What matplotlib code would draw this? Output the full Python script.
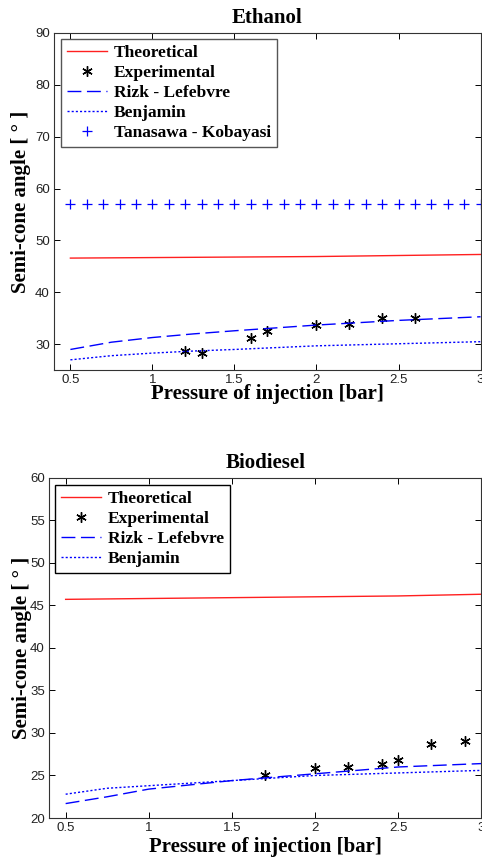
import matplotlib.pyplot as plt

# --- data ---
p_curve = [0.5, 0.75, 1.0, 1.25, 1.5, 2.0, 2.5, 3.0]
p_theo = [0.5, 1.0, 1.5, 2.0, 2.5, 3.0]
p_tk = [0.5 + 0.1 * i for i in range(26)]

eth_theo = [46.6, 46.7, 46.8, 46.9, 47.1, 47.3]
eth_rizk = [29.0, 30.4, 31.3, 32.0, 32.6, 33.7, 34.6, 35.3]
eth_benj = [27.0, 27.8, 28.3, 28.7, 29.0, 29.7, 30.1, 30.5]
eth_tk = [57.0] * 26
eth_exp_p = [1.2, 1.3, 1.6, 1.7, 2.0, 2.2, 2.4, 2.6]
eth_exp = [28.8, 28.3, 31.3, 32.5, 33.7, 33.9, 35.1, 35.1]

bio_theo = [45.7, 45.8, 45.9, 46.0, 46.1, 46.3]
bio_rizk = [21.7, 22.5, 23.4, 23.9, 24.4, 25.2, 26.0, 26.4]
bio_benj = [22.8, 23.5, 23.8, 24.1, 24.4, 25.0, 25.3, 25.6]
bio_exp_p = [1.7, 2.0, 2.2, 2.4, 2.5, 2.7, 2.9]
bio_exp = [25.0, 25.85, 26.0, 26.4, 26.8, 28.7, 29.1]

serif = ['Liberation Serif', 'DejaVu Serif']
plt.rcParams['font.family'] = ['Liberation Sans', 'DejaVu Sans']

star = (6, 2, 0)

fig = plt.figure(figsize=(4.82, 8.63), dpi=100)
ax1 = fig.add_axes([0.112, 0.571, 0.885, 0.391])
ax2 = fig.add_axes([0.1017, 0.0521, 0.897, 0.3944])


def style(ax, ylim, yticks, title, xl_y, yl_x):
    ax.set_xlim(0.4, 3.0)
    ax.set_ylim(*ylim)
    ax.set_xticks([0.5, 1, 1.5, 2, 2.5, 3])
    ax.set_xticklabels(['0.5', '1', '1.5', '2', '2.5', '3'])
    ax.set_yticks(yticks)
    ax.tick_params(direction='in', top=True, right=True, length=4,
                   width=0.7, labelsize=9.5, labelcolor='#222222', pad=3)
    for s in ax.spines.values():
        s.set_linewidth(0.8)
        s.set_color('#333333')
    ax.set_title(title, family=serif, fontweight='bold', fontsize=15, pad=7)
    ax.set_xlabel('Pressure of injection [bar]', family=serif,
                  fontweight='bold', fontsize=15)
    ax.set_ylabel('Semi-cone angle [ ° ]', family=serif,
                  fontweight='bold', fontsize=15)
    ax.xaxis.set_label_coords(0.5, xl_y)
    ax.yaxis.set_label_coords(yl_x, 0.5)


def legend(ax, anchor, edge):
    leg = ax.legend(loc='upper left', bbox_to_anchor=anchor,
                    borderaxespad=0,
                    prop={'family': serif, 'weight': 'bold', 'size': 12.5},
                    handlelength=2.3, handletextpad=0.4, labelspacing=0.22,
                    fancybox=False, framealpha=1, borderpad=0.35)
    leg.get_frame().set_edgecolor(edge)
    leg.get_frame().set_linewidth(1)


# Ethanol
ax1.plot(p_theo, eth_theo, color='#ff2020', lw=1, label='Theoretical')
ax1.plot(eth_exp_p, eth_exp, ls='none', marker=star, ms=7.5, mew=1,
         color='black', label='Experimental')
ax1.plot(p_curve, eth_rizk, color='blue', lw=1, dashes=(10, 4),
         label='Rizk - Lefebvre')
ax1.plot(p_curve, eth_benj, color='blue', lw=1, dashes=(1.5, 1.5),
         label='Benjamin')
ax1.plot(p_tk, eth_tk, ls='none', marker='+', ms=7, mew=0.9,
         color='blue', label='Tanasawa - Kobayasi')
style(ax1, (25, 90), range(30, 91, 10), 'Ethanol', -0.04, -0.055)
legend(ax1, (0.0164, 0.981), '#555555')

# Biodiesel
ax2.plot(p_theo, bio_theo, color='#ff2020', lw=1, label='Theoretical')
ax2.plot(bio_exp_p, bio_exp, ls='none', marker=star, ms=7.5, mew=1,
         color='black', label='Experimental')
ax2.plot(p_curve, bio_rizk, color='blue', lw=1, dashes=(10, 4),
         label='Rizk - Lefebvre')
ax2.plot(p_curve, bio_benj, color='blue', lw=1, dashes=(1.5, 1.5),
         label='Benjamin')
style(ax2, (20, 60), range(20, 61, 5), 'Biodiesel', -0.055, -0.04)
legend(ax2, (0.0139, 0.9785), 'black')

fig.savefig('out.png', dpi=100)
